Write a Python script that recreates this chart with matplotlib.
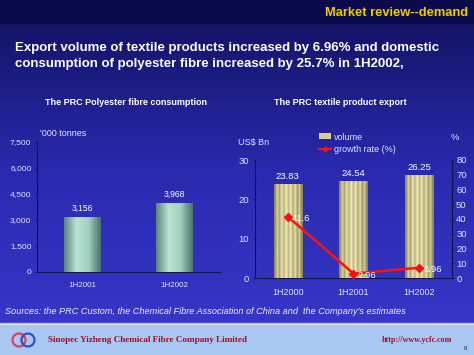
import numpy as np
import matplotlib
matplotlib.use("Agg")
import matplotlib.pyplot as plt
from matplotlib.patches import Patch, Circle, Rectangle
from matplotlib.lines import Line2D
from matplotlib.colors import LinearSegmentedColormap

plt.rcParams['font.family'] = ['Liberation Sans', 'DejaVu Sans']

# data
fibre_periods = ['1H2001', '1H2002']
fibre_consumption = [3156, 3968]
fibre_ticks = [0, 1500, 3000, 4500, 6000, 7500]

export_periods = ['1H2000', '1H2001', '1H2002']
export_volume = [23.83, 24.54, 26.25]
export_growth = [41.6, 2.96, 6.96]

W, H = 474, 355
fig = plt.figure(figsize=(W / 100, H / 100), dpi=100)

# slide background, pixel coordinates
bg = fig.add_axes([0, 0, 1, 1])
bg.set_xlim(0, W)
bg.set_ylim(H, 0)
bg.axis('off')
grad = LinearSegmentedColormap.from_list('bg', ['#141468', '#2a2ab0', '#3636c8'])
bg.imshow(np.linspace(0, 1, 256).reshape(-1, 1), cmap=grad, aspect='auto',
          extent=(0, W, 323, 23), zorder=0)
bg.add_patch(Rectangle((0, 0), W, 23, color='#0b0b4c', zorder=1))
bg.add_patch(Rectangle((0, 323), W, 32, color='#a8c8f2', zorder=1))
bg.plot([0, W], [323.5, 323.5], color='#d8e4ff', lw=0.8, zorder=2)
bg.add_patch(Circle((19, 340), 6.5, fill=False, ec='#e04050', lw=1.6, zorder=3))
bg.add_patch(Circle((28, 340), 6.5, fill=False, ec='#3050c0', lw=1.6, zorder=3))

fig.text(468 / W, 1 - 13 / H, 'Market review--demand', color='#f2c800',
         fontsize=9.3, fontweight='bold', ha='right', va='center')
fig.text(15 / W, 1 - 56 / H,
         'Export volume of textile products increased by 6.96% and domestic\n'
         'consumption of polyester fibre increased by 25.7% in 1H2002,',
         color='white', fontsize=9.5, fontweight='bold', ha='left', va='center',
         linespacing=1.4)
fig.text(5 / W, 1 - 312 / H,
         "Sources: the PRC Custom, the Chemical Fibre Association of China and  the Company's estimates",
         color='#f0f0ff', fontsize=6.6, style='italic', ha='left', va='center')
fig.text(48 / W, 1 - 340 / H, 'Sinopec Yizheng Chemical Fibre Company Limited',
         color='#a01028', fontsize=6.6, fontweight='bold', family='Liberation Serif',
         ha='left', va='center')
fig.text(452 / W, 1 - 340 / H, 'http://www.ycfc.com', color='#a01028', fontsize=5.8,
         fontweight='bold', family='Liberation Serif', ha='right', va='center')
fig.text(466 / W, 1 - 348 / H, '8', color='#202060', fontsize=4.5, ha='center', va='center')

tick_col = '#e4e4ff'
spine_col = '#141448'


def style_axis(ax, right=False):
    ax.set_facecolor('none')
    ax.spines['top'].set_visible(False)
    if not right:
        ax.spines['right'].set_visible(False)
    for s in ['left', 'bottom', 'right']:
        ax.spines[s].set_color(spine_col)
        ax.spines[s].set_linewidth(0.8)
    ax.tick_params(colors=tick_col, length=1.5, width=0.6)
    ax.tick_params(color=spine_col)


# left chart
ax1 = fig.add_axes([37 / W, 1 - 272 / H, 183 / W, 130 / H])
style_axis(ax1)
x1 = np.arange(len(fibre_periods))
bars1 = ax1.bar(x1, fibre_consumption, width=0.4, color='#90c0b0', zorder=2)
teal = LinearSegmentedColormap.from_list('teal', ['#5a8680', '#b8e2d2', '#a4d0c0', '#4a7470'])
for b in bars1:
    im = ax1.imshow(np.linspace(0, 1, 64).reshape(1, -1), cmap=teal, aspect='auto',
                    extent=(b.get_x(), b.get_x() + b.get_width(), 0, b.get_height()), zorder=3)
    im.set_clip_path(b)
    ax1.text(b.get_x() + b.get_width() / 2, b.get_height() + 250, f'{b.get_height():,.0f}',
             color='white', fontsize=6.2, ha='center', va='bottom')
ax1.set_xlim(-0.5, 1.5)
ax1.set_ylim(0, 7500)
ax1.set_yticks(fibre_ticks)
ax1.set_yticklabels([f'{v:,}' for v in fibre_ticks], fontsize=6.1)
ax1.set_xticks(x1)
ax1.set_xticklabels(fibre_periods, fontsize=5.8)
ax1.tick_params(axis='x', length=0, pad=7)
ax1.tick_params(axis='y', pad=2.5)
fig.text(40 / W, 1 - 134 / H, "'000 tonnes", color=tick_col, fontsize=6.5, ha='left', va='center')
fig.text(126 / W, 1 - 102 / H, 'The PRC Polyester fibre consumption', color='white',
         fontsize=6.5, fontweight='bold', ha='center', va='center')

# right chart
ax2 = fig.add_axes([255 / W, 1 - 278 / H, 197 / W, 118 / H])
style_axis(ax2, right=True)
x2 = np.arange(len(export_periods))
bars2 = ax2.bar(x2, export_volume, width=0.43, color='#d0c890', zorder=2)
stripes = np.array([0.15, 0.7, 0.35, 0.9, 0.45, 1.0, 0.5, 0.95, 0.4, 0.85, 0.3, 0.65, 0.1])
khaki = LinearSegmentedColormap.from_list('khaki', ['#8c8658', '#c8c088', '#f4eebc'])
for b in bars2:
    im = ax2.imshow(stripes.reshape(1, -1), cmap=khaki, aspect='auto', interpolation='bilinear',
                    extent=(b.get_x(), b.get_x() + b.get_width(), 0, b.get_height()), zorder=3)
    im.set_clip_path(b)
    ax2.text(b.get_x() + b.get_width() / 2, b.get_height() + 0.8, f'{b.get_height():.2f}',
             color='white', fontsize=6.8, ha='center', va='bottom')
ax2.set_xlim(-0.5, 2.5)
ax2.set_ylim(0, 30)
ax2.set_yticks([0, 10, 20, 30])
ax2.set_xticks(x2)
ax2.set_xticklabels(export_periods, fontsize=6.5)
ax2.tick_params(axis='x', length=0, pad=7)
ax2.tick_params(axis='y', labelsize=6.8, pad=3)

ax3 = ax2.twinx()
ax3.set_position(ax2.get_position())
ax3.set_facecolor('none')
for s in ['top', 'left', 'bottom']:
    ax3.spines[s].set_visible(False)
ax3.spines['right'].set_color(spine_col)
ax3.spines['right'].set_linewidth(0.8)
ax3.tick_params(colors=tick_col, labelsize=6.8, length=1.5, width=0.6, pad=1.5)
ax3.tick_params(color=spine_col)
ax3.plot(x2, export_growth, color='#ff1010', lw=1.8, marker='D', ms=4.5, zorder=5)
for xi, g in zip(x2, export_growth):
    ax3.annotate(f'{g:g}', (xi, g), xytext=(3, -1), textcoords='offset points',
                 color='white', fontsize=6.8, ha='left', va='center', zorder=6)
ax3.set_ylim(0, 80)
ax3.set_yticks(range(0, 81, 10))
ax3.set_xlim(ax2.get_xlim())

fig.text(340 / W, 1 - 102 / H, 'The PRC textile product export', color='white',
         fontsize=6.5, fontweight='bold', ha='center', va='center')
fig.text(238 / W, 1 - 143 / H, 'US$ Bn', color=tick_col, fontsize=6.5,
         ha='left', va='center')
fig.text(455 / W, 1 - 138 / H, '%', color=tick_col, fontsize=6.8,
         ha='center', va='center')

handles = [Patch(facecolor='#d8d090', edgecolor='none'),
           Line2D([0], [0], color='#ff1010', lw=1.5, marker='D', ms=2.5)]
leg = fig.legend(handles, ['volume', 'growth rate (%)'], loc='upper left',
                 bbox_to_anchor=(314 / W, 1 - 128 / H), frameon=False, fontsize=6.5,
                 handlelength=1.4, handleheight=0.6, handletextpad=0.3, labelspacing=0.35,
                 borderpad=0)
for t in leg.get_texts():
    t.set_color(tick_col)

fig.savefig('out.png', dpi=100)
